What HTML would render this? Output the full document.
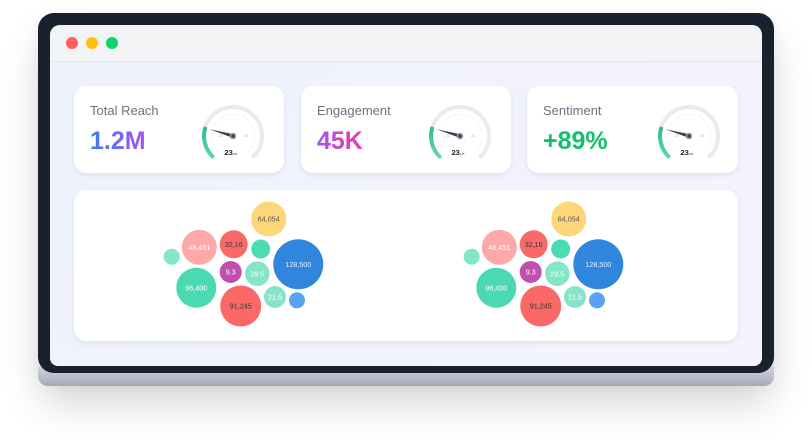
<!DOCTYPE html>
<html><head><meta charset="utf-8"><style>
*{margin:0;padding:0;box-sizing:border-box}
html,body{width:812px;height:441px;background:#fff;overflow:hidden;font-family:"Liberation Sans",sans-serif}
.shadow{position:absolute;left:40px;top:20px;width:732px;height:366px;border-radius:18px;box-shadow:0 18px 40px rgba(0,0,0,0.16),0 0 18px rgba(0,0,0,0.06)}
.base{position:absolute;left:38px;top:366px;width:736px;height:20px;border-radius:0 0 10px 10px;background:linear-gradient(#d3d6de,#a3a9b5)}
.frame{position:absolute;left:38px;top:13px;width:736px;height:360px;background:#19212f;border-radius:16px}
.screen{position:absolute;left:50px;top:25px;width:712px;height:341px;border-radius:10px 10px 8px 8px;overflow:hidden;background:linear-gradient(135deg,#edf2fc,#f5f3fd)}
.bar{position:absolute;left:0;top:0;width:712px;height:37px;background:#f2f3f5;border-bottom:1px solid #e1e5ec}
.dot{position:absolute;top:12px;width:12px;height:12px;border-radius:50%}
.card{position:absolute;top:86px;height:87px;background:#fff;border-radius:12px;box-shadow:0 2px 5px rgba(30,40,80,0.09)}
.lbl{position:absolute;left:16px;top:17px;font-size:13px;color:#6b7280}
.val{position:absolute;left:16px;top:41px;font-size:25px;font-weight:bold;-webkit-background-clip:text;background-clip:text;color:transparent}
.card svg{position:absolute;left:0;top:0}
.big{position:absolute;left:74px;top:190px;width:664px;height:151px;background:#fff;border-radius:12px;box-shadow:0 2px 5px rgba(30,40,80,0.09)}
</style></head><body>
<div class="shadow"></div>
<div class="base"></div>
<div class="frame"></div>
<div class="screen">
  <div class="bar">
    <div class="dot" style="left:16px;background:#ff5f5f"></div>
    <div class="dot" style="left:36px;background:#ffc107"></div>
    <div class="dot" style="left:56px;background:#10d46a"></div>
  </div>
</div>

<svg width="0" height="0" style="position:absolute">
  <defs>
    <linearGradient id="gg" x1="0" y1="1" x2="0" y2="0">
      <stop offset="0" stop-color="#5fd6ad"/><stop offset="1" stop-color="#2fbf8c"/>
    </linearGradient>
    <g id="gauge">
      <path d="M138.5 70.5 A29 29 0 1 1 179.5 70.5" fill="none" stroke="#e8ebef" stroke-width="4" stroke-linecap="round"/>
      <path d="M138.5 70.5 A29 29 0 0 1 131 42.5" fill="none" stroke="url(#gg)" stroke-width="4" stroke-linecap="round"/>
      <path d="M143.4 65.6 A22 22 0 1 1 174.6 65.6" fill="none" stroke="#cfd3d9" stroke-width="0.8" stroke-dasharray="0.6 2"/>
      <text x="145" y="51" font-size="3.5" fill="#b0b4ba">20</text>
      <text x="170" y="51" font-size="3.5" fill="#b0b4ba">20</text>
      <polygon points="135.7,43.3 159.6,48.2 158.4,51.8" fill="#3c424c"/>
      <circle cx="159" cy="50" r="3.3" fill="#9aa1ab"/>
      <circle cx="159" cy="50" r="1.8" fill="#3c424c"/>
      <text x="150.5" y="69" font-size="7.5" font-weight="bold" fill="#222">23<tspan font-size="3.5" font-weight="normal" fill="#666">pts</tspan></text>
    </g>
  </defs>
</svg>

<div class="card" style="left:74px;width:210px">
  <div class="lbl">Total Reach</div>
  <div class="val" style="background-image:linear-gradient(90deg,#3b7cf6,#a553f5)">1.2M</div>
  <svg width="210" height="87"><use href="#gauge"/></svg>
</div>
<div class="card" style="left:301px;width:210px">
  <div class="lbl">Engagement</div>
  <div class="val" style="background-image:linear-gradient(90deg,#a54ff5,#ee3fa0)">45K</div>
  <svg width="210" height="87"><use href="#gauge"/></svg>
</div>
<div class="card" style="left:527px;width:211px">
  <div class="lbl">Sentiment</div>
  <div class="val" style="color:#12c06c">+89%</div>
  <svg width="211" height="87"><use href="#gauge" transform="translate(3,0)"/></svg>
</div>

<div class="big"></div>

<svg width="812" height="441" style="position:absolute;left:0;top:0" font-family="Liberation Sans, sans-serif" font-size="7.2" text-anchor="middle">
  <defs>
    <g id="bub">
      <circle cx="268.7" cy="219" r="17.5" fill="#fdd67a"/>
      <text x="268.7" y="221.6" fill="#5a5a5a">64,054</text>
      <circle cx="199.3" cy="247.3" r="17.5" fill="#fda9a9"/>
      <text x="199.3" y="249.9" fill="#fff">48,451</text>
      <circle cx="233.7" cy="244.3" r="14" fill="#f86a6a"/>
      <text x="233.7" y="246.9" fill="#3a3a3a">32,16</text>
      <circle cx="260.7" cy="249" r="9.5" fill="#4bdcb1"/>
      <circle cx="171.7" cy="256.7" r="8" fill="#84e6c9"/>
      <circle cx="298.3" cy="264.3" r="25" fill="#2f86dc"/>
      <text x="298.3" y="266.9" fill="#e8f0ff">128,500</text>
      <circle cx="230.7" cy="272" r="11" fill="#c04fb1"/>
      <text x="230.7" y="274.6" fill="#fff">9.3</text>
      <circle cx="257.3" cy="273.7" r="12.3" fill="#86e5c9"/>
      <text x="257.3" y="276.3" fill="#fff">29.5</text>
      <circle cx="196.3" cy="287.7" r="20" fill="#4bd9b3"/>
      <text x="196.3" y="290.3" fill="#fff">96,400</text>
      <circle cx="240.7" cy="306" r="20.5" fill="#fb6868"/>
      <text x="240.7" y="308.6" fill="#333">91,245</text>
      <circle cx="275" cy="297" r="11" fill="#87e4c8"/>
      <text x="275" y="299.6" fill="#fff">21.5</text>
      <circle cx="297" cy="300.3" r="8" fill="#5aa2f5"/>
    </g>
  </defs>
  <use href="#bub"/>
  <use href="#bub" transform="translate(300,0)"/>
</svg>
</body></html>
